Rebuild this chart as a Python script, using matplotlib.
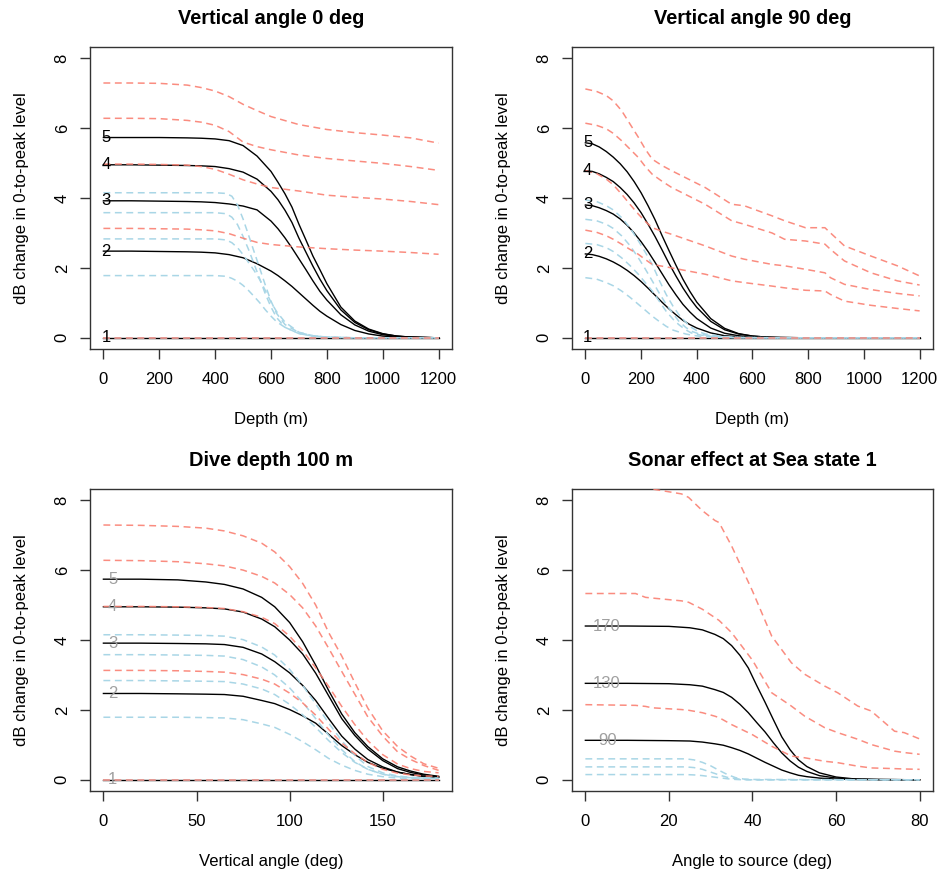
import matplotlib
matplotlib.use("Agg")
import matplotlib.pyplot as plt

plt.rcParams['font.family'] = ['Liberation Sans', 'DejaVu Sans']

# ---------------- panel 1: vertical angle 0 deg, vs depth ----------------
depth_black_1 = [0, 100, 200, 300, 350, 400, 450, 500, 550, 600, 625, 650, 675, 700, 725, 750, 775, 800,
                 850, 900, 950, 1000, 1050, 1100, 1150, 1200]
p1_mean = {
    '1': [0] * 26,
    '2': [2.48, 2.48, 2.47, 2.46, 2.45, 2.43, 2.38, 2.29, 2.12, 1.91, 1.78, 1.63, 1.47, 1.29, 1.11, 0.93, 0.76, 0.62,
          0.38, 0.21, 0.11, 0.05, 0.02, 0.01, 0, 0],
    '3': [3.92, 3.92, 3.91, 3.9, 3.89, 3.87, 3.83, 3.77, 3.66, 3.34, 3.12, 2.86, 2.57, 2.26, 1.95, 1.63, 1.33, 1.08,
          0.66, 0.37, 0.19, 0.09, 0.04, 0.02, 0.01, 0],
    '4': [4.95, 4.95, 4.94, 4.93, 4.92, 4.9, 4.84, 4.74, 4.54, 4.19, 3.95, 3.65, 3.3, 2.85, 2.45, 2.05, 1.68, 1.35,
          0.8, 0.44, 0.23, 0.11, 0.05, 0.02, 0.01, 0],
    '5': [5.73, 5.73, 5.73, 5.72, 5.71, 5.69, 5.64, 5.5, 5.2, 4.76, 4.45, 4.12, 3.74, 3.25, 2.8, 2.34, 1.95, 1.55,
          0.88, 0.48, 0.25, 0.12, 0.05, 0.02, 0.01, 0],
}
depth_upper_1 = [0, 100, 200, 300, 350, 400, 450, 500, 550, 600, 700, 800, 900, 1000, 1100, 1200]
p1_upper = [
    [0] * 16,
    [3.13, 3.13, 3.12, 3.11, 3.09, 3.06, 2.98, 2.85, 2.73, 2.67, 2.6, 2.55, 2.51, 2.48, 2.44, 2.39],
    [4.97, 4.97, 4.96, 4.94, 4.9, 4.82, 4.68, 4.52, 4.4, 4.3, 4.2, 4.08, 4.02, 3.97, 3.9, 3.81],
    [6.28, 6.28, 6.27, 6.22, 6.17, 6.08, 5.9, 5.6, 5.47, 5.38, 5.23, 5.13, 5.06, 4.99, 4.9, 4.79],
    [7.29, 7.29, 7.28, 7.23, 7.16, 7.06, 6.9, 6.68, 6.5, 6.33, 6.1, 5.96, 5.87, 5.8, 5.72, 5.57],
]
depth_lower_1 = [0, 100, 200, 300, 400, 440, 460, 480, 500, 520, 540, 560, 580, 600, 620, 650, 700, 750, 800, 900, 1200]
p1_lower = [
    [0] * 21,
    [1.78, 1.78, 1.78, 1.78, 1.78, 1.76, 1.7, 1.62, 1.5, 1.35, 1.18, 1.0, 0.8, 0.62, 0.46, 0.3, 0.12, 0.05, 0.02, 0, 0],
    [2.83, 2.83, 2.83, 2.83, 2.83, 2.8, 2.72, 2.58, 2.38, 2.15, 1.92, 1.66, 1.35, 1.02, 0.75, 0.45, 0.16, 0.06, 0.02, 0, 0],
    [3.58, 3.58, 3.58, 3.58, 3.58, 3.55, 3.45, 3.24, 2.9, 2.52, 2.1, 1.68, 1.25, 0.88, 0.58, 0.3, 0.12, 0.05, 0.02, 0, 0],
    [4.15, 4.15, 4.15, 4.15, 4.15, 4.13, 4.05, 3.8, 3.4, 2.93, 2.45, 1.98, 1.5, 1.05, 0.7, 0.38, 0.15, 0.06, 0.02, 0, 0],
]

# ---------------- panel 2: vertical angle 90 deg, vs depth ----------------
depth_black_2 = [0, 25, 50, 75, 100, 125, 150, 175, 200, 225, 250, 275, 300, 325, 350, 375, 400, 450, 500, 550,
                 600, 650, 700, 800, 1200]
p2_mean = {
    '1': [0] * 25,
    '2': [2.4, 2.38, 2.33, 2.26, 2.17, 2.06, 1.93, 1.78, 1.61, 1.42, 1.22, 1.02, 0.83, 0.66, 0.5, 0.38, 0.28, 0.14,
          0.06, 0.03, 0.01, 0, 0, 0, 0],
    '3': [3.8, 3.78, 3.72, 3.64, 3.54, 3.4, 3.22, 3.0, 2.75, 2.47, 2.16, 1.84, 1.52, 1.23, 0.96, 0.74, 0.55, 0.28,
          0.13, 0.06, 0.02, 0.01, 0, 0, 0],
    '4': [4.78, 4.76, 4.69, 4.59, 4.47, 4.3, 4.1, 3.86, 3.58, 3.25, 2.9, 2.52, 2.13, 1.77, 1.43, 1.13, 0.87, 0.47,
          0.23, 0.11, 0.05, 0.02, 0.01, 0, 0],
    '5': [5.58, 5.55, 5.46, 5.33, 5.17, 4.98, 4.75, 4.47, 4.15, 3.78, 3.38, 2.93, 2.5, 2.08, 1.68, 1.33, 1.02, 0.55,
          0.27, 0.12, 0.05, 0.02, 0.01, 0, 0],
}
depth_upper_2 = [0, 40, 75, 100, 130, 160, 190, 215, 240, 275, 310, 430, 525, 570, 670, 715, 790, 860, 880, 930,
                 1025, 1120, 1200]
p2_upper = [
    [0] * 23,
    [3.08, 3.02, 2.92, 2.82, 2.68, 2.53, 2.39, 2.24, 2.1, 2.05, 2.0, 1.82, 1.63, 1.58, 1.48, 1.43, 1.36, 1.34, 1.24,
     1.05, 0.93, 0.84, 0.77],
    [4.78, 4.7, 4.54, 4.38, 4.11, 3.82, 3.54, 3.33, 3.15, 3.05, 2.96, 2.63, 2.34, 2.25, 2.1, 2.06, 1.96, 1.86, 1.72,
     1.53, 1.38, 1.27, 1.2],
    [6.14, 6.08, 5.98, 5.85, 5.64, 5.4, 5.16, 4.9, 4.68, 4.48, 4.3, 3.82, 3.35, 3.25, 3.0, 2.82, 2.77, 2.68, 2.53,
     2.2, 1.86, 1.63, 1.51],
    [7.12, 7.05, 6.93, 6.78, 6.5, 6.12, 5.74, 5.4, 5.11, 4.93, 4.78, 4.3, 3.82, 3.78, 3.49, 3.35, 3.15, 3.15, 3.0,
     2.63, 2.34, 2.06, 1.77],
]
depth_lower_2 = [0, 40, 75, 100, 130, 160, 190, 215, 240, 265, 290, 315, 335, 360, 380, 405, 430, 490, 550, 700, 1200]
p2_lower = [
    [0] * 21,
    [1.72, 1.68, 1.58, 1.49, 1.34, 1.16, 0.96, 0.79, 0.62, 0.47, 0.33, 0.22, 0.17, 0.11, 0.08, 0.05, 0.03, 0.01, 0, 0, 0],
    [2.7, 2.67, 2.58, 2.47, 2.29, 2.07, 1.82, 1.58, 1.34, 1.05, 0.76, 0.53, 0.38, 0.23, 0.14, 0.09, 0.06, 0.02, 0.01, 0, 0],
    [3.39, 3.35, 3.25, 3.13, 2.92, 2.64, 2.29, 1.97, 1.63, 1.28, 0.96, 0.69, 0.48, 0.3, 0.19, 0.12, 0.08, 0.03, 0.01, 0, 0],
    [3.94, 3.9, 3.78, 3.66, 3.44, 3.15, 2.78, 2.45, 2.1, 1.65, 1.24, 0.9, 0.67, 0.45, 0.3, 0.18, 0.11, 0.04, 0.01, 0, 0],
]

# ---------------- panel 3: dive depth 100 m, vs vertical angle ----------------
angle_3 = [0, 20, 40, 55, 65, 75, 85, 92, 100, 107, 114, 121, 128, 135, 142, 150, 158, 165, 172, 180]
p3_mean = {
    '1': [0] * 20,
    '2': [2.47, 2.47, 2.46, 2.45, 2.44, 2.39, 2.27, 2.18, 2.01, 1.83, 1.62, 1.3, 0.98, 0.72, 0.5, 0.33, 0.22, 0.15,
          0.1, 0.07],
    '3': [3.91, 3.91, 3.9, 3.89, 3.87, 3.79, 3.6, 3.38, 3.06, 2.7, 2.27, 1.75, 1.25, 0.88, 0.58, 0.37, 0.22, 0.15,
          0.1, 0.07],
    '4': [4.95, 4.95, 4.94, 4.92, 4.89, 4.8, 4.6, 4.38, 4.0, 3.6, 3.05, 2.4, 1.75, 1.27, 0.88, 0.55, 0.32, 0.21,
          0.14, 0.09],
    '5': [5.74, 5.74, 5.72, 5.66, 5.59, 5.46, 5.22, 4.95, 4.5, 3.95, 3.28, 2.55, 1.88, 1.35, 0.95, 0.6, 0.37, 0.25,
          0.16, 0.1],
}
p3_upper = [
    [0] * 20,
    [3.13, 3.13, 3.12, 3.1, 3.08, 3.01, 2.88, 2.74, 2.48, 2.2, 1.85, 1.44, 1.05, 0.75, 0.5, 0.3, 0.19, 0.14, 0.11, 0.1],
    [4.96, 4.96, 4.95, 4.93, 4.9, 4.81, 4.65, 4.47, 4.11, 3.7, 3.2, 2.67, 2.1, 1.58, 1.12, 0.72, 0.45, 0.32, 0.24, 0.2],
    [6.28, 6.27, 6.24, 6.18, 6.12, 6.0, 5.82, 5.63, 5.3, 4.92, 4.4, 3.76, 3.1, 2.45, 1.8, 1.25, 0.8, 0.58, 0.41, 0.27],
    [7.29, 7.28, 7.25, 7.2, 7.12, 6.98, 6.77, 6.52, 6.1, 5.62, 5.0, 4.21, 3.54, 2.78, 2.05, 1.4, 0.95, 0.68, 0.46, 0.33],
]
p3_lower = [
    [0] * 20,
    [1.79, 1.79, 1.79, 1.78, 1.77, 1.72, 1.6, 1.5, 1.3, 1.09, 0.86, 0.61, 0.42, 0.27, 0.16, 0.09, 0.05, 0.04, 0.03, 0.03],
    [2.84, 2.84, 2.83, 2.82, 2.81, 2.74, 2.6, 2.44, 2.16, 1.86, 1.5, 1.12, 0.78, 0.5, 0.3, 0.16, 0.09, 0.06, 0.05, 0.04],
    [3.58, 3.58, 3.57, 3.56, 3.54, 3.44, 3.23, 3.0, 2.63, 2.22, 1.75, 1.27, 0.86, 0.52, 0.3, 0.16, 0.09, 0.06, 0.05, 0.04],
    [4.15, 4.15, 4.14, 4.13, 4.11, 4.01, 3.8, 3.57, 3.16, 2.7, 2.17, 1.62, 1.12, 0.7, 0.38, 0.2, 0.11, 0.07, 0.06, 0.05],
]

# ---------------- panel 4: sonar effect at sea state 1 ----------------
angle_black_4 = [0, 10, 20, 25, 28, 31, 33, 35, 37, 39, 41, 43, 45, 47, 49, 51, 53, 56, 60, 64, 70, 80]
p4_mean = {
    '90': [1.13, 1.13, 1.12, 1.11, 1.08, 1.03, 0.99, 0.92, 0.84, 0.74, 0.62, 0.5, 0.39, 0.28, 0.2, 0.13, 0.09, 0.05,
           0.02, 0.01, 0, 0],
    '130': [2.76, 2.76, 2.75, 2.72, 2.68, 2.58, 2.5, 2.36, 2.16, 1.92, 1.64, 1.37, 1.06, 0.77, 0.54, 0.36, 0.24, 0.12,
            0.05, 0.02, 0.01, 0],
    '170': [4.4, 4.4, 4.39, 4.35, 4.29, 4.16, 4.04, 3.84, 3.56, 3.2, 2.7, 2.22, 1.72, 1.23, 0.86, 0.57, 0.38, 0.2,
            0.08, 0.03, 0.01, 0],
}
angle_upper_4 = [0, 12, 14.4, 16, 23, 24.7, 28, 31, 32, 35, 40, 44.6, 49.3, 52.5, 57.3, 60.4, 65.2, 68.4, 74, 76.3, 80]
p4_upper = [
    [2.15, 2.13, 2.1, 2.06, 2.01, 1.99, 1.92, 1.82, 1.78, 1.58, 1.29, 0.96, 0.68, 0.63, 0.53, 0.49, 0.39, 0.34, 0.32, 0.31, 0.3],
    [5.33, 5.33, 5.22, 5.2, 5.12, 5.08, 4.88, 4.64, 4.56, 4.21, 3.42, 2.49, 2.11, 1.82, 1.49, 1.35, 1.16, 1.01, 0.82, 0.78, 0.73],
    [8.45, 8.45, 8.4, 8.32, 8.18, 8.08, 7.7, 7.42, 7.36, 6.69, 5.4, 4.11, 3.35, 3.02, 2.68, 2.49, 2.11, 1.97, 1.39, 1.35, 1.17],
]
angle_lower_4 = [0, 24, 26, 28, 30, 32, 34, 36, 38, 40, 80]
p4_lower = [
    [0.15, 0.15, 0.14, 0.12, 0.09, 0.06, 0.03, 0.01, 0.0, 0.0, 0],
    [0.37, 0.37, 0.35, 0.3, 0.22, 0.14, 0.07, 0.03, 0.01, 0.0, 0],
    [0.6, 0.6, 0.57, 0.5, 0.4, 0.27, 0.15, 0.06, 0.02, 0.01, 0],
]

RED = '#fa8072'
BLUE = '#a9d6e6'
DASH = (4.5, 3.0)

W, H = 939, 873
fig = plt.figure(figsize=(W / 100, H / 100), dpi=100)


def make_axes(left, top, right, bottom):
    return fig.add_axes([left / W, 1 - bottom / H, (right - left) / W, (bottom - top) / H])


def draw_panel(ax, x_mean, means, x_up, uppers, x_lo, lowers, xlim, xticks,
               title, xlabel, label_x, label_color):
    # mean curves first, then the dashed bounds on top
    for name, vals in means.items():
        ax.plot(x_mean, vals, color='black', lw=1.0, zorder=2)
    for vals in lowers:
        ax.plot(x_lo, vals, color=BLUE, lw=1.1, dashes=DASH, zorder=3)
    for vals in uppers:
        ax.plot(x_up, vals, color=RED, lw=1.1, dashes=DASH, zorder=3, alpha=0.9)
    for name, vals in means.items():
        ax.text(label_x, vals[0], name, ha='center', va='center', fontsize=12,
                color=label_color, zorder=4)

    ax.set_xlim(*xlim)
    ax.set_ylim(-0.32, 8.32)
    ax.set_xticks(xticks)
    ax.set_yticks([0, 2, 4, 6, 8])
    for s in ax.spines.values():
        s.set_color('#333333')
        s.set_linewidth(1.0)
    ax.tick_params(axis='both', direction='out', length=7, width=1.0, color='#333333',
                   labelsize=12)
    ax.tick_params(axis='x', pad=9.5)
    ax.tick_params(axis='y', pad=7.6, labelrotation=90)
    for lab in ax.get_yticklabels():
        lab.set_va('center')

    ax.text(0.5, 1.096, title, transform=ax.transAxes, ha='center', va='center',
            fontsize=14.4, fontweight='bold')
    ax.text(0.5, -0.232, xlabel, transform=ax.transAxes, ha='center', va='center',
            fontsize=12)
    ax.text(-0.19, 0.5, 'dB change in 0-to-peak level', transform=ax.transAxes,
            ha='center', va='center', rotation=90, fontsize=12)


ax1 = make_axes(90, 47, 452, 349)
draw_panel(ax1, depth_black_1, p1_mean, depth_upper_1, p1_upper, depth_lower_1, p1_lower,
           (-48, 1248), [0, 200, 400, 600, 800, 1000, 1200],
           'Vertical angle 0 deg', 'Depth (m)', 10, 'black')

ax2 = make_axes(572, 47, 933, 349)
draw_panel(ax2, depth_black_2, p2_mean, depth_upper_2, p2_upper, depth_lower_2, p2_lower,
           (-48, 1248), [0, 200, 400, 600, 800, 1000, 1200],
           'Vertical angle 90 deg', 'Depth (m)', 8, 'black')

ax3 = make_axes(90, 489, 452, 791)
draw_panel(ax3, angle_3, p3_mean, angle_3, p3_upper, angle_3, p3_lower,
           (-7.2, 187.2), [0, 50, 100, 150],
           'Dive depth 100 m', 'Vertical angle (deg)', 5, '#a0a0a0')

ax4 = make_axes(572, 489, 933, 791)
draw_panel(ax4, angle_black_4, p4_mean, angle_upper_4, p4_upper, angle_lower_4, p4_lower,
           (-3.2, 83.2), [0, 20, 40, 60, 80],
           'Sonar effect at Sea state 1', 'Angle to source (deg)', 5.2, '#a0a0a0')

fig.savefig('out.png', dpi=100)
